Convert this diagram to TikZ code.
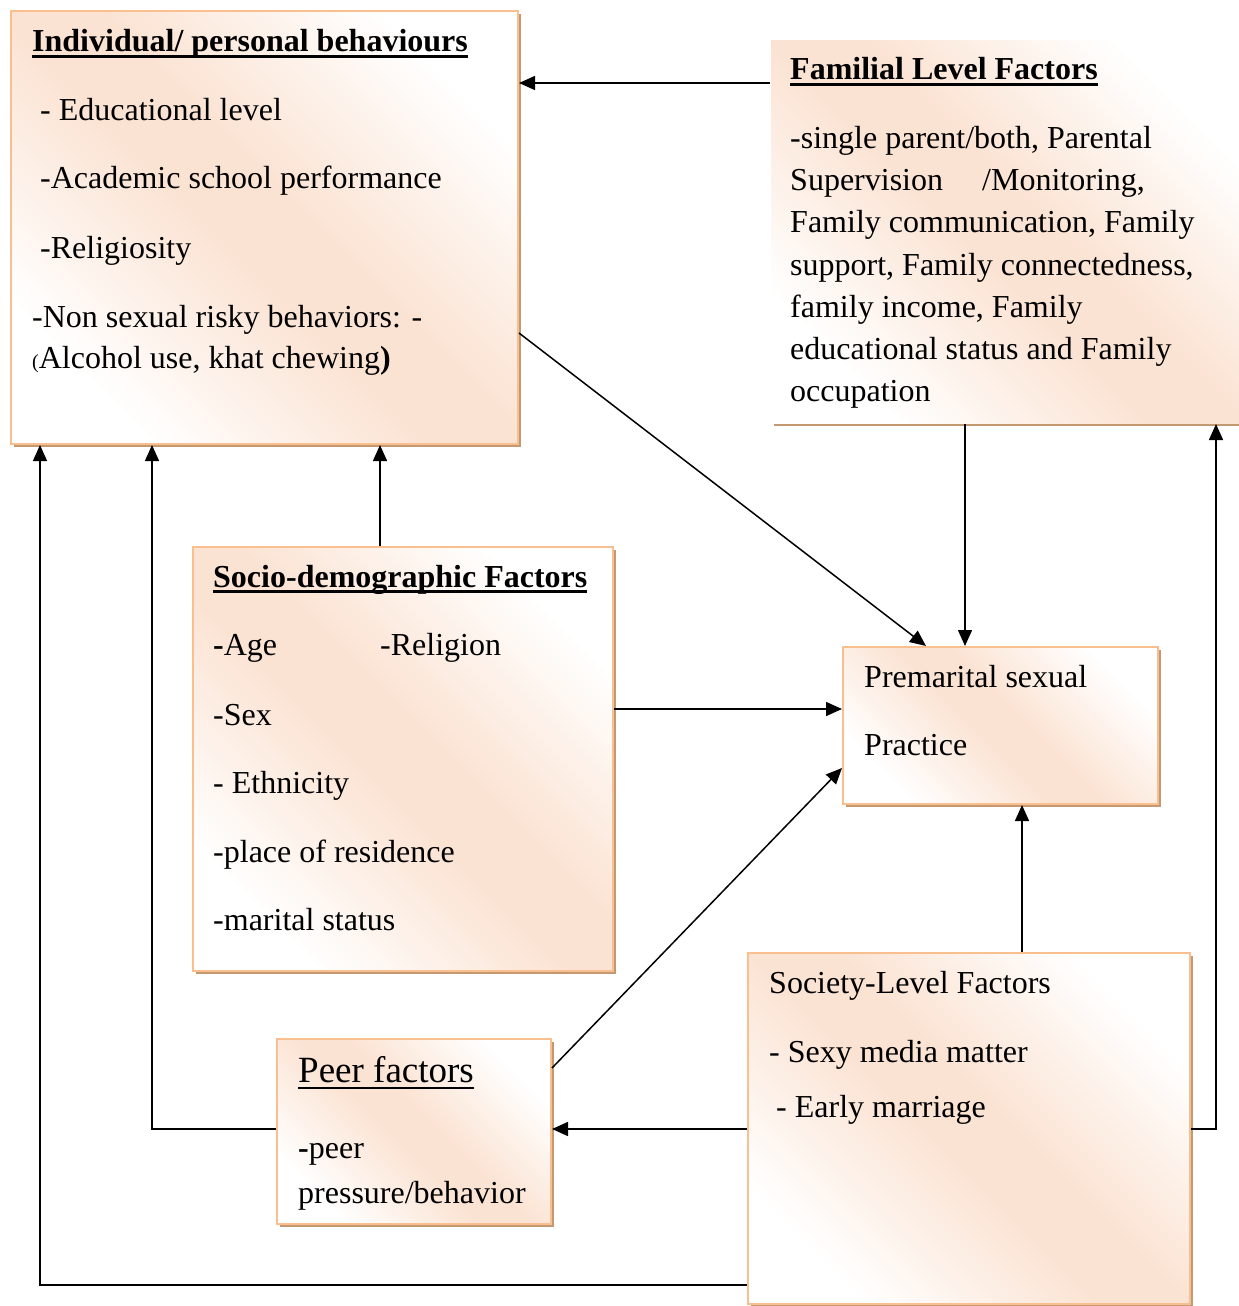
\documentclass[tikz,border=0pt]{standalone}
\usepackage{fontspec}
\setmainfont{Liberation Serif}
\usetikzlibrary{arrows.meta,shadows}
\definecolor{peachc}{RGB}{251,227,211}
\definecolor{borderc}{RGB}{249,191,143}
\definecolor{shadowc}{RGB}{196,152,112}
\pgfdeclareverticalshading{peachshade}{100bp}{color(0bp)=(white); color(25bp)=(white); color(46bp)=(peachc); color(54bp)=(peachc); color(75bp)=(white); color(100bp)=(white)}
\newcommand\myul[1]{\setbox0=\hbox{#1}\rlap{\rule[-6pt]{\wd0}{2.6pt}}\box0}
\newcommand\myulthin[1]{\setbox0=\hbox{#1}\rlap{\rule[-7pt]{\wd0}{2pt}}\box0}
\tikzset{
  box/.style={rectangle, inner sep=0pt, anchor=north west, draw=borderc, line width=2pt,
    shading=peachshade, shading angle=-45,
    general shadow={fill=shadowc, shadow xshift=3pt, shadow yshift=-3pt}},
  txt/.style={anchor=base west, inner sep=0pt, font=\fontsize{32}{42}\selectfont},
  arr/.style={draw, line width=1.5pt, -{Triangle[length=16pt,width=14pt]}}
}
\begin{document}
\begin{tikzpicture}[x=1pt,y=-1pt]
\useasboundingbox (0,0) rectangle (1239,1306);
% boxes
\node[box, minimum width=507pt, minimum height=433pt] (ind) at (10,10) {};
\node[box, draw=none, minimum width=472pt, minimum height=382pt] (fam) at (770,40) {};
\node[box, minimum width=420pt, minimum height=424pt] (soc) at (192,546) {};
\node[box, minimum width=315pt, minimum height=157pt] (prem) at (842,646) {};
\node[box, minimum width=274pt, minimum height=185pt] (peer) at (276,1038) {};
\node[box, minimum width=442pt, minimum height=351pt] (socy) at (747,952) {};
% individual
\node[txt] (t11) at (32,52) {\textbf{\myul{Individual/ personal behaviours}}};
\node[txt] (t12) at (40,120) {- Educational level};
\node[txt] (t13) at (40,188) {-Academic school performance};
\node[txt] (t14) at (40,258) {-Religiosity};
\node[txt] (t15) at (32,327) {-Non sexual risky behaviors: -};
\node[txt] (t16) at (32,368) {{\fontsize{20}{20}\selectfont(}Alcohol use, khat chewing\textbf{)}};
% familial
\node[txt] (t21) at (790,80) {\textbf{\myul{Familial Level Factors}}};
\node[txt] (t22) at (790,148) {-single parent/both, Parental};
\node[txt] (t23) at (790,190) {Supervision};
\node[txt] (t23b) at (982,190) {/Monitoring,};
\node[txt] (t24) at (790,232) {Family communication, Family};
\node[txt] (t25) at (790,275) {support, Family connectedness,};
\node[txt] (t26) at (790,317) {family income, Family};
\node[txt] (t27) at (790,359) {educational status and Family};
\node[txt] (t28) at (790,401) {occupation};
% socio
\node[txt] (t31) at (213,587) {\textbf{\myul{Socio-demographic Factors}}};
\node[txt] (t32) at (213,655) {\textbf{-}Age};
\node[txt] (t32b) at (380,655) {-Religion};
\node[txt] (t33) at (213,725) {-Sex};
\node[txt] (t34) at (213,793) {- Ethnicity};
\node[txt] (t35) at (213,862) {-place of residence};
\node[txt] (t36) at (213,930) {-marital status};
% premarital
\node[txt] (t41) at (864,687) {Premarital sexual};
\node[txt] (t42) at (864,755) {Practice};
% peer
\node[txt, font=\fontsize{37}{44}\selectfont] (t51) at (298,1082) {\myulthin{Peer factors}};
\node[txt] (t52) at (298,1158) {\textbf{-}peer};
\node[txt] (t53) at (298,1203) {pressure/behavior};
% society
\node[txt] (t61) at (769,993) {Society-Level Factors};
\node[txt] (t62) at (769,1062) {- Sexy media matter};
\node[txt] (t63) at (776,1117) {- Early marriage};
% connectors
\draw[arr] (fam.west |- 0,83) -- (ind.east |- 0,83);
\draw[arr] (ind.east |- 0,333) -- (prem.north -| 926,0);
\draw[arr] (fam.south -| 965,0) -- (prem.north -| 965,0);
\draw[arr] (soc.north -| 380,0) -- (ind.south -| 380,0);
\draw[arr] (soc.east |- 0,709) -- (prem.west |- 0,709);
\draw[arr] (peer.east |- 0,1068) -- (prem.west |- 0,768);
\draw[arr] (socy.north -| 1022,0) -- (prem.south -| 1022,0);
\draw[arr] (socy.west |- 0,1129) -- (peer.east |- 0,1129);
\draw[arr] (peer.west |- 0,1129) -| (ind.south -| 152,0);
\draw[arr] (socy.west |- 0,1285) -| (ind.south -| 40,0);
\draw[arr] (socy.east |- 0,1129) -| (fam.south -| 1216,0);
\end{tikzpicture}
\end{document}
